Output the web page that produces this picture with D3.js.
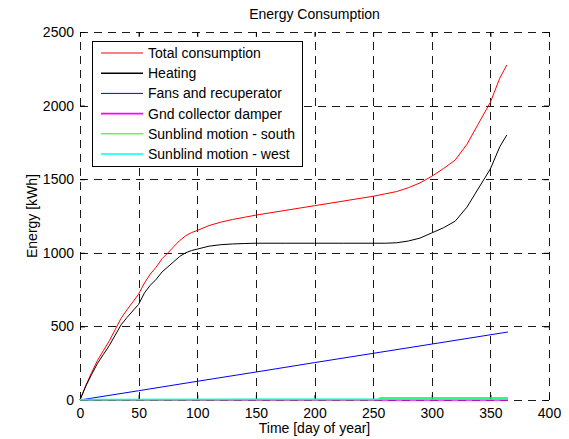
<!DOCTYPE html>
<html>
<head>
<meta charset="utf-8">
<script src="https://cdn.jsdelivr.net/npm/d3@7"></script>
<style>
  html, body { margin: 0; padding: 0; background: #fff; }
  svg { display: block; font-family: "Liberation Sans", Arial, Helvetica, sans-serif; }
</style>
</head>
<body>
<svg id="chart" width="569" height="439"></svg>
<script>
// Cumulative energy use over the year [kWh]
const days = [0, 5, 10, 15, 20, 25, 30, 35, 40, 45, 50, 55, 60, 65, 70, 75, 80, 85, 90, 95, 100,
  110, 120, 130, 140, 150, 175, 200, 225, 250, 260, 270, 280, 290, 300, 310, 320, 330, 340, 350, 358, 364];
const totalConsumption = [0, 100, 188, 270, 336, 402, 478, 555, 612, 665, 720, 795, 856, 903, 960, 1000,
  1042, 1083, 1115, 1137, 1152, 1185, 1208, 1226, 1241, 1256, 1288, 1320, 1352, 1384, 1400, 1416,
  1442, 1475, 1520, 1572, 1630, 1737, 1880, 2023, 2186, 2276];
const heating = [0, 95, 175, 250, 310, 370, 440, 510, 560, 605, 650, 728, 780, 820, 870, 905,
  940, 975, 1000, 1015, 1025, 1045, 1055, 1060, 1063, 1065, 1065, 1065, 1065, 1065, 1065, 1068,
  1080, 1100, 1135, 1170, 1215, 1310, 1440, 1570, 1720, 1800];

const fanDays = [0, 50, 100, 150, 200, 250, 300, 365];
const fansRecuperator = [0, 63, 127, 190, 254, 317, 380, 462];

const gndDays = [0, 365];
const gndDamper = [0, 0];

const southDays = [0, 255, 256, 365];
const sunblindSouth = [2, 3, 13, 14];

const westDays = [0, 365];
const sunblindWest = [4, 5];

const seriesNames = ["Total consumption", "Heating", "Fans and recuperator",
  "Gnd collector damper", "Sunblind motion - south", "Sunblind motion - west"];
const seriesColors = ["#ff0000", "#000000", "#0000ff", "#ff00ff", "#00ff00", "#00ffff"];
const seriesWidths = [1, 1, 1, 1.5, 1.5, 1.5];

const xTicks = [0, 50, 100, 150, 200, 250, 300, 350, 400];
const yTicks = [0, 500, 1000, 1500, 2000, 2500];

const series = [
  { x: days, y: totalConsumption },
  { x: days, y: heating },
  { x: fanDays, y: fansRecuperator },
  { x: gndDays, y: gndDamper },
  { x: southDays, y: sunblindSouth },
  { x: westDays, y: sunblindWest }
];

const svg = d3.select("#chart");
const plotLeft = 80, plotRight = 549, plotTop = 32, plotBottom = 400;

const x = d3.scaleLinear().domain([0, 400]).range([plotLeft, plotRight]);
const y = d3.scaleLinear().domain([0, 2500]).range([plotBottom, plotTop]);

// dashed grid, including the outer edges
const grid = svg.append("g").attr("stroke", "#1a1a1a").attr("stroke-dasharray", "8,6")
  .attr("shape-rendering", "crispEdges").attr("fill", "none");
grid.selectAll("line.v").data(xTicks).join("line").attr("class", "v")
  .attr("x1", d => Math.round(x(d)) + 0.5).attr("x2", d => Math.round(x(d)) + 0.5)
  .attr("y1", plotBottom).attr("y2", plotTop);
grid.selectAll("line.h").data(yTicks).join("line").attr("class", "h")
  .attr("y1", d => Math.round(y(d)) + 0.5).attr("y2", d => Math.round(y(d)) + 0.5)
  .attr("x1", plotLeft).attr("x2", plotRight);

// inward ticks on all four sides
function styleAxis(g) {
  g.select(".domain").remove();
  g.attr("font-family", null);
  g.selectAll(".tick line").attr("stroke", "#000");
  g.selectAll(".tick text").attr("fill", "#000").attr("font-size", "14px");
}
svg.append("g").attr("transform", `translate(0,${plotBottom})`)
  .call(d3.axisBottom(x).tickValues(xTicks).tickSizeInner(-5).tickSizeOuter(0).tickPadding(8).tickFormat(d3.format("d")))
  .call(styleAxis);
svg.append("g").attr("transform", `translate(0,${plotTop})`)
  .call(d3.axisTop(x).tickValues(xTicks).tickSizeInner(-5).tickSizeOuter(0).tickFormat(""))
  .call(styleAxis);
svg.append("g").attr("transform", `translate(${plotLeft},0)`)
  .call(d3.axisLeft(y).tickValues(yTicks).tickSizeInner(-5).tickSizeOuter(0).tickPadding(6).tickFormat(d3.format("d")))
  .call(styleAxis);
svg.append("g").attr("transform", `translate(${plotRight},0)`)
  .call(d3.axisRight(y).tickValues(yTicks).tickSizeInner(-5).tickSizeOuter(0).tickFormat(""))
  .call(styleAxis);

// data lines
const line = d3.line().x(d => x(d[0])).y(d => y(d[1]));
svg.append("g").selectAll("path").data(series).join("path")
  .attr("d", s => line(s.x.map((d, i) => [d, s.y[i]])))
  .attr("fill", "none")
  .attr("stroke", (s, i) => seriesColors[i])
  .attr("stroke-opacity", (s, i) => i === 5 ? 0.75 : 1)
  .attr("stroke-width", (s, i) => seriesWidths[i]);

// titles
svg.append("text").attr("x", (plotLeft + plotRight) / 2).attr("y", 19).attr("text-anchor", "middle")
  .attr("font-size", "14px").text("Energy Consumption");
svg.append("text").attr("x", (plotLeft + plotRight) / 2).attr("y", 433).attr("text-anchor", "middle")
  .attr("font-size", "14px").text("Time [day of year]");
svg.append("text").attr("transform", `translate(37,${(plotTop + plotBottom) / 2}) rotate(-90)`)
  .attr("text-anchor", "middle").attr("font-size", "14px").text("Energy [kWh]");

// legend
const legend = svg.append("g");
legend.append("rect").attr("x", 92.5).attr("y", 41.5).attr("width", 210).attr("height", 125)
  .attr("fill", "#fff").attr("stroke", "#000");
const rows = legend.selectAll("g.row").data(seriesNames).join("g").attr("class", "row")
  .attr("transform", (d, i) => `translate(0,${53 + i * 20.2})`);
rows.append("line").attr("x1", 101).attr("x2", 143).attr("y1", 0).attr("y2", 0)
  .attr("stroke", (d, i) => seriesColors[i]).attr("stroke-width", (d, i) => (i === 1 || i === 3 || i === 5) ? 1.6 : 1);
rows.append("text").attr("x", 148).attr("y", 5).attr("font-size", "14px").text(d => d);
</script>
</body>
</html>
